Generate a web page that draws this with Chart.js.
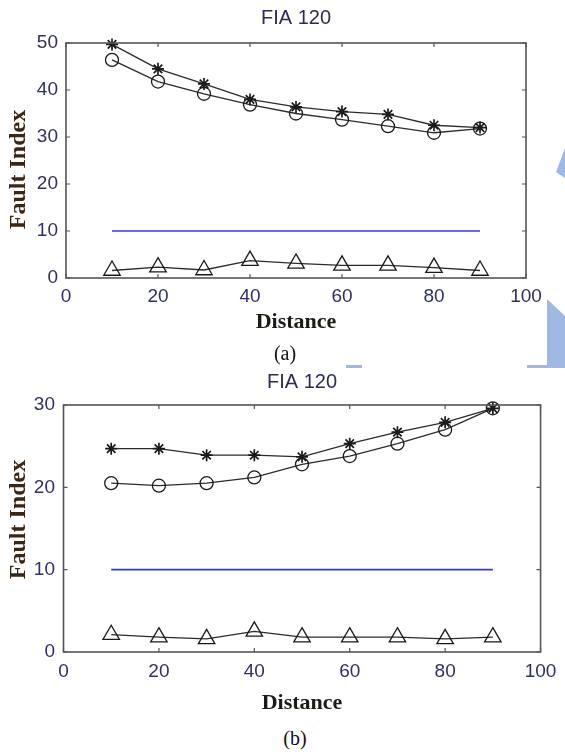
<!DOCTYPE html>
<html>
<head>
<meta charset="utf-8">
<script src="https://cdn.jsdelivr.net/npm/chart.js@4.4.1/dist/chart.umd.min.js"></script>
<style>
  html, body { margin:0; padding:0; background:#fff; }
  body { width:565px; height:755px; position:relative; overflow:hidden; }
  canvas { position:absolute; left:0; z-index:2; }
  #deco { position:absolute; left:0; top:0; z-index:1; }
  .cap { position:absolute; z-index:3; transform:translate(-50%,-50%);
         font-family:"Liberation Serif","Times New Roman",serif; font-size:20px; color:#111; white-space:nowrap; }
</style>
</head>
<body>
<svg id="deco" width="565" height="755">
  <polygon points="547,299 565,316 565,368 527,368 527,365 547,365" fill="#a0b8e4"/>
  <rect x="346" y="365" width="16" height="3" fill="#a0b8e4"/>
  <polygon points="556,172 565,148 565,178" fill="#a0b8e4"/>
</svg>
<canvas id="chartA" width="565" height="340" style="top:0px"></canvas>
<canvas id="chartB" width="565" height="360" style="top:360px"></canvas>
<div class="cap" style="left:285px; top:353px;">(a)</div>
<div class="cap" style="left:295px; top:738px;">(b)</div>
<script>
// ---- data ----
const distance = [10, 20, 30, 40, 50, 60, 70, 80, 90];
const thresholdX = [10, 90];
const thresholdY = [10, 10];

const aStar     = [49.7, 44.5, 41.3, 38.0, 36.4, 35.4, 34.8, 32.5, 32.0];
const aCircle   = [46.4, 41.8, 39.2, 36.9, 35.0, 33.7, 32.3, 30.9, 31.8];
const aTriangle = [1.6, 2.3, 1.7, 3.7, 3.1, 2.7, 2.7, 2.2, 1.6];

const bStar     = [24.7, 24.7, 23.9, 23.9, 23.7, 25.3, 26.7, 27.9, 29.6];
const bCircle   = [20.5, 20.2, 20.5, 21.2, 22.8, 23.8, 25.3, 27.0, 29.6];
const bTriangle = [2.1, 1.8, 1.6, 2.5, 1.8, 1.8, 1.8, 1.6, 1.8];

const xTickLabels  = [0, 20, 40, 60, 80, 100];
const aYTickLabels = [0, 10, 20, 30, 40, 50];
const bYTickLabels = [0, 10, 20, 30];

const titleText = 'FIA 120';
const xTitle = 'Distance';
const yTitle = 'Fault Index';

// ---- helpers ----
const pts = (xs, ys) => xs.map((x, i) => ({x: x, y: ys[i]}));

const framePlugin = {
  id: 'frame',
  afterDatasetsDraw(chart) {
    const {ctx, chartArea: {left, right, top, bottom}, scales: {x, y}} = chart;
    ctx.save();
    ctx.strokeStyle = '#555';
    ctx.lineWidth = 1.6;
    ctx.strokeRect(left, top, right - left, bottom - top);
    ctx.lineWidth = 1.2;
    ctx.beginPath();
    const L = 4;
    x.ticks.forEach(t => {
      const px = x.getPixelForValue(t.value);
      ctx.moveTo(px, bottom); ctx.lineTo(px, bottom - L);
      ctx.moveTo(px, top); ctx.lineTo(px, top + L);
    });
    y.ticks.forEach(t => {
      const py = y.getPixelForValue(t.value);
      ctx.moveTo(left, py); ctx.lineTo(left + L, py);
      ctx.moveTo(right, py); ctx.lineTo(right - L, py);
    });
    ctx.stroke();
    ctx.restore();
  }
};

function makeChart(id, cfg) {
  const lineCol = '#2c2c2c';
  const mk = (ys, style, r) => ({
    data: pts(distance, ys),
    borderColor: lineCol,
    borderWidth: 1.3,
    pointStyle: style,
    pointRadius: r,
    pointBorderColor: '#1a1a1a',
    pointBackgroundColor: 'rgba(0,0,0,0)',
    pointBorderWidth: style === 'star' ? 1.7 : 1.3,
    fill: false,
    tension: 0,
    clip: false
  });
  return new Chart(document.getElementById(id), {
    type: 'line',
    data: {
      datasets: [
        mk(cfg.star, 'star', 6),
        mk(cfg.circle, 'circle', 6.5),
        mk(cfg.triangle, 'triangle', 9.5),
        {
          data: pts(thresholdX, thresholdY),
          borderColor: '#3434ee',
          borderWidth: 1.6,
          pointRadius: 0,
          fill: false,
          clip: false
        }
      ]
    },
    options: {
      responsive: false,
      animation: false,
      events: [],
      layout: { padding: cfg.padding },
      plugins: {
        legend: { display: false },
        tooltip: { enabled: false },
        title: {
          display: true,
          text: titleText,
          fullSize: false,
          color: '#2c2c5a',
          font: { family: '"Liberation Sans", Arial, sans-serif', size: 20, weight: 'normal', lineHeight: 1.2 },
          padding: cfg.titlePad
        }
      },
      scales: {
        x: {
          type: 'linear',
          position: 'bottom',
          min: 0, max: 100,
          afterBuildTicks: s => { s.ticks = xTickLabels.map(v => ({value: v})); },
          afterFit: s => { s.height = cfg.xHeight; },
          grid: { display: false, drawTicks: false },
          border: { display: false },
          ticks: {
            padding: cfg.xTickPad,
            color: '#30306a',
            font: { family: '"Liberation Sans", Arial, sans-serif', size: 19 }
          },
          title: {
            display: true,
            text: xTitle,
            padding: 0,
            color: '#1e1a16',
            font: { family: '"Liberation Serif", "Times New Roman", serif', size: 22, weight: 'bold', lineHeight: 1.2 }
          }
        },
        y: {
          type: 'linear',
          min: 0, max: cfg.yMax,
          afterBuildTicks: s => { s.ticks = cfg.yTicks.map(v => ({value: v})); },
          afterFit: s => { s.width = cfg.yWidth; },
          grid: { display: false, drawTicks: false },
          border: { display: false },
          ticks: {
            padding: cfg.yTickPad,
            color: '#30306a',
            font: { family: '"Liberation Sans", Arial, sans-serif', size: 19 }
          },
          title: {
            display: true,
            text: cfg.yTitleText,
            padding: { top: 4, bottom: 0 },
            color: '#3a2614',
            font: { family: '"Liberation Serif", "Times New Roman", serif', size: 24, weight: 'bold', lineHeight: 1.2 }
          }
        }
      }
    },
    plugins: [framePlugin]
  });
}

makeChart('chartA', {
  star: aStar, circle: aCircle, triangle: aTriangle,
  yMax: 50, yTicks: aYTickLabels,
  yTitleText: yTitle + '\u00a0\u00a0\u00a0',
  padding: { left: 0, right: 39, top: 0, bottom: 4.8 },
  titlePad: { top: 6, bottom: 13 },
  xHeight: 57.2, xTickPad: 7.6,
  yWidth: 66, yTickPad: 8
});

makeChart('chartB', {
  star: bStar, circle: bCircle, triangle: bTriangle,
  yMax: 30, yTicks: bYTickLabels,
  yTitleText: '\u00a0\u00a0\u00a0' + yTitle,
  padding: { left: 0, right: 20, top: 0, bottom: 3.8 },
  titlePad: { top: 10, bottom: 11 },
  xHeight: 64.2, xTickPad: 8.6,
  yWidth: 63.5, yTickPad: 8.5
});
</script>
</body>
</html>
